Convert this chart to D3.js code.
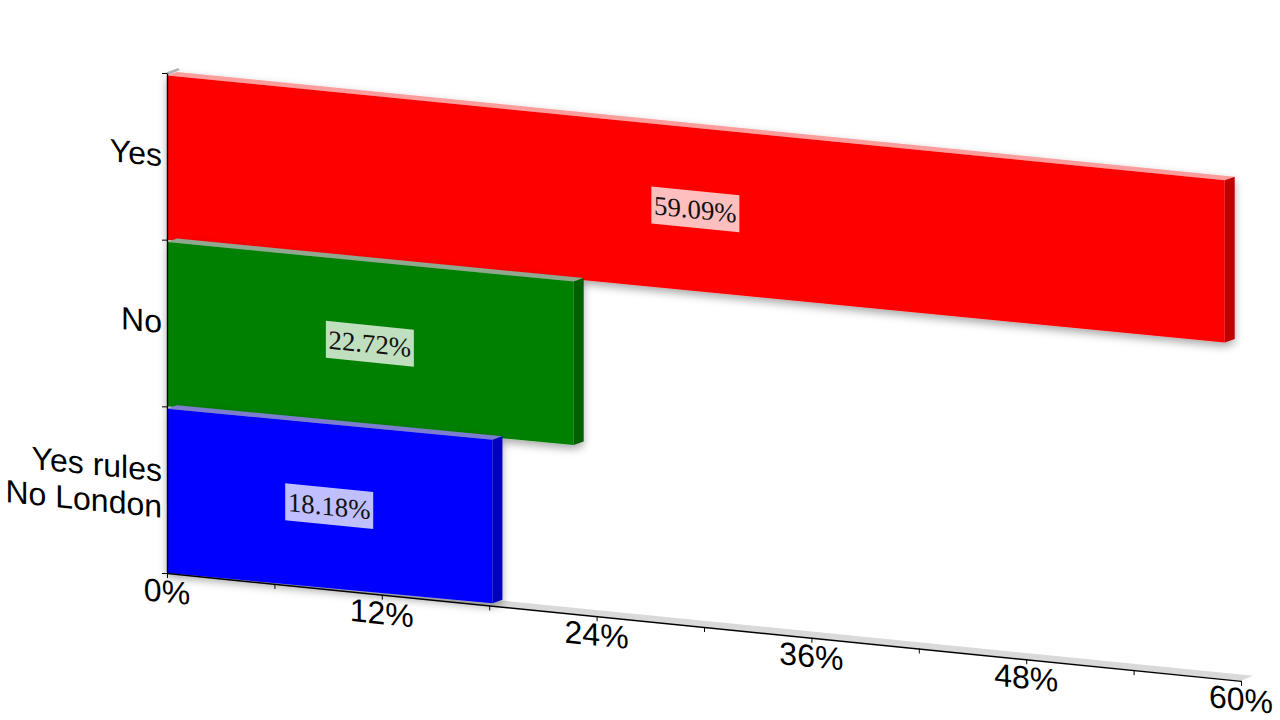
<!DOCTYPE html>
<html><head><meta charset="utf-8">
<script src="https://cdn.jsdelivr.net/npm/d3@7/dist/d3.min.js"></script>
<style>html,body{margin:0;padding:0;background:#fff;overflow:hidden}</style>
</head><body>
<svg id="c" width="1280" height="720"></svg>
<script>
const categories = [["Yes"], ["No"], ["Yes rules", "No London"]];
const values = [59.09, 22.72, 18.18];
const valueLabels = ["59.09%", "22.72%", "18.18%"];
const frontColors = ["#ff0000", "#008000", "#0000ff"];
const topColors = ["#ff9c9c", "#8fa88f", "#7d7dcf"];
const sideColors = ["#bf0000", "#006000", "#0000bf"];
const labelFills = ["#ffbfbf", "#bfdfbf", "#bfbfff"];
const xTicks = [0, 6, 12, 18, 24, 30, 36, 42, 48, 54, 60];
const xLabelled = [0, 12, 24, 36, 48, 60];

const svg = d3.select("#c");
const defs = svg.append("defs");
const f = defs.append("filter").attr("id", "sh").attr("x", "-5%").attr("y", "-10%").attr("width", "110%").attr("height", "125%");
f.append("feDropShadow").attr("dx", 0).attr("dy", 4).attr("stdDeviation", 4).attr("flood-color", "#000").attr("flood-opacity", 0.34);

const x = d3.scaleLinear().domain([0, 60]).range([167, 1241]);
const y = d3.scaleLinear().domain([0, 3]).range([73, 573]);
const axisSlope = 0.1004;
const depth = { dx: 10, dy: -3.5 };
const inset = 2.4;
// slope of a receding line varies slightly with its height on the wall
const slopeAt = d3.scaleLinear().domain([75, 573]).range([0.0992, 0.0932]);
const proj = (v, py) => [x(v), py + slopeAt(py) * (x(v) - x(0))];
const pts = a => a.map(p => p.join(",")).join(" ");
const back = p => [p[0] + depth.dx, p[1] + depth.dy];

const FLOOR_Y = y(3);
const floorPt = v => [x(v), FLOOR_Y + axisSlope * (x(v) - x(0))];

// floor and wall slabs
svg.append("polygon").attr("fill", "#d9d9d9")
  .attr("points", pts([floorPt(0), [floorPt(0)[0] + 13, floorPt(0)[1] - 4.7], [floorPt(60)[0] + 12, floorPt(60)[1] - 5], floorPt(60)]));
svg.append("polygon").attr("fill", "#b8b8b8")
  .attr("points", pts([[x(0) - 1, y(0) - 0.5], [x(0) + 11, y(0) - 5], [x(0) + 13, y(0) - 3], [x(0) + 1, y(0) + 2]]));

// bars
const bars = svg.append("g").selectAll("g").data(values).join("g").attr("filter", "url(#sh)");
bars.each(function (v, i) {
  const g = d3.select(this);
  const tl = proj(0, y(i) + inset), tr = proj(v, y(i) + inset);
  const bl = proj(0, y(i + 1)), br = proj(v, y(i + 1));
  g.append("polygon").attr("fill", topColors[i]).attr("points", pts([tl, back(tl), back(tr), tr]));
  g.append("polygon").attr("fill", sideColors[i]).attr("points", pts([tr, back(tr), back(br), br]));
  g.append("polygon").attr("fill", frontColors[i]).attr("points", pts([tl, tr, br, bl]));
});

// value labels
const labels = svg.append("g").selectAll("g").data(values).join("g")
  .attr("transform", (v, i) => {
    const c = proj(v / 2, (y(i) + inset + y(i + 1)) / 2);
    return `matrix(1,0.1,0,1,${c[0] - 0.5},${c[1]})`;
  });
labels.append("rect").attr("x", -44).attr("y", -18.5).attr("width", 88).attr("height", 37)
  .attr("fill", (d, i) => labelFills[i]);
labels.append("text").text((d, i) => valueLabels[i])
  .attr("text-anchor", "middle").attr("y", 9)
  .attr("font-family", "Liberation Serif").attr("font-size", 26.8).attr("fill", "#111");

// x axis
const xAxis = d3.axisBottom(x).tickValues(xTicks).tickSize(5).tickSizeOuter(0)
  .tickFormat(d => xLabelled.includes(d) ? d + "%" : "");
const xg = svg.append("g")
  .attr("transform", `matrix(1,${axisSlope},0,1,0,${FLOOR_Y - axisSlope * x(0)})`)
  .call(xAxis);
xg.select(".domain").attr("stroke", "#000").attr("stroke-width", 1.4);
xg.selectAll("line").attr("stroke", "#000");
xg.selectAll("text").attr("y", 29.5).attr("dy", 0).attr("dx", -0.5)
  .attr("font-family", "Liberation Sans").attr("font-size", 32).attr("fill", "#000");

// y axis
const yAxis = d3.axisLeft(y).tickValues([0, 1, 2, 3]).tickSize(5).tickSizeOuter(0).tickFormat("");
const yg = svg.append("g").attr("transform", `translate(${x(0)},0)`).call(yAxis);
yg.select(".domain").attr("stroke", "#000").attr("stroke-width", 1.4);
yg.selectAll("line").attr("stroke", "#000");

// category labels
const cats = svg.append("g").selectAll("g").data(categories).join("g")
  .attr("transform", (d, i) => `matrix(1,0.1,0,1,${x(0) - 5},${(y(i) + y(i + 1)) / 2})`);
cats.selectAll("text").data(d => d.map((t, j) => ({ t, j, n: d.length }))).join("text")
  .text(d => d.t)
  .attr("text-anchor", "end")
  .attr("y", d => 10 + (d.j - (d.n - 1) / 2) * 36)
  .attr("font-family", "Liberation Sans").attr("font-size", 32).attr("fill", "#000");
</script>
</body></html>
